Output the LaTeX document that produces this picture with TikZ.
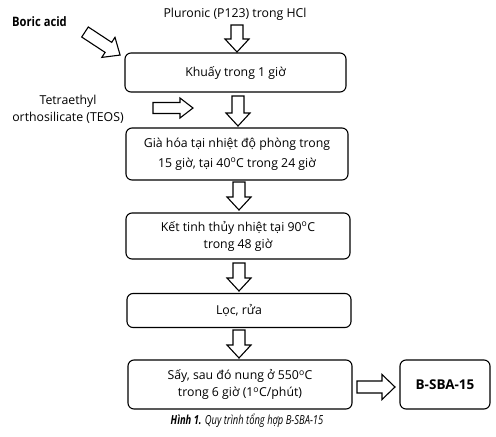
\documentclass[tikz,border=0pt]{standalone}
\usepackage{fontspec}
\setmainfont{Open Sans}
\newfontfamily\capfont[FakeStretch=0.75]{Open Sans}
\newfontfamily\narrowbold[FakeStretch=0.86]{Open Sans}
\usetikzlibrary{calc}
\tikzset{
  procbox/.style={draw, line width=1.1pt, rounded corners=6pt, align=center, inner sep=0pt, font=\fontsize{12.3}{17}\selectfont},
  lbl/.style={align=center, inner sep=0pt, font=\fontsize{12.3}{17}\selectfont},
  hollowarrow/.style={draw, line width=1.1pt, fill=white, line join=miter}
}
% vertical (downward) hollow block arrow from #1 to tip #2
\newcommand\downarrowbox[2]{%
  \draw[hollowarrow] let \p1=(#1), \p2=(#2) in
    (\x1-6pt,\y1) -- (\x1-6pt,\y2+13pt) -- (\x1-12pt,\y2+13pt) -- (\x1,\y2)
    -- (\x1+12pt,\y2+13pt) -- (\x1+6pt,\y2+13pt) -- (\x1+6pt,\y1) -- cycle;
}
% horizontal (rightward) hollow block arrow from #1 to tip #2; #3 shaft half width, #4 head half width
\newcommand\rightarrowbox[4]{%
  \draw[hollowarrow] let \p1=(#1), \p2=(#2) in
    (\x1,\y1+#3) -- (\x2-13pt,\y1+#3) -- (\x2-13pt,\y1+#4) -- (\x2,\y1)
    -- (\x2-13pt,\y1-#4) -- (\x2-13pt,\y1-#3) -- (\x1,\y1-#3) -- cycle;
}
\begin{document}
\begin{tikzpicture}[x=1pt, y=-1pt]
\useasboundingbox (0,0) rectangle (496,437);
% texts
\node[lbl] (plur) at (235,14) {Pluronic (P123) trong HCl};
\node[lbl, font=\narrowbold\fontsize{13}{14}\selectfont\bfseries] (boric) at (39.5,22) {Boric acid};
\node[lbl] (teos) at (68,109) {Tetraethyl\\orthosilicate (TEOS)};
% boxes
\node[procbox, minimum width=221pt, minimum height=39pt] (b1) at (235.5,72.5) {Khuấy trong 1 giờ};
\node[procbox, minimum width=222pt, minimum height=52pt, font=\fontsize{12.3}{20}\selectfont] (b2) at (237,154) {Già hóa tại nhiệt độ phòng trong\\15 giờ, tại 40\textsuperscript{o}C trong 24 giờ};
\node[procbox, minimum width=224pt, minimum height=46pt] (b3) at (238,236) {Kết tinh thủy nhiệt tại 90\textsuperscript{o}C\\trong 48 giờ};
\node[procbox, minimum width=224pt, minimum height=34pt] (b4) at (239,310.5) {Lọc, rửa};
\node[procbox, minimum width=224pt, minimum height=49pt] (b5) at (240,384.5) {Sấy, sau đó nung ở 550\textsuperscript{o}C\\trong 6 giờ (1\textsuperscript{o}C/phút)};
\node[procbox, minimum width=90pt, minimum height=49pt, font=\fontsize{13.5}{15}\selectfont\bfseries] (prod) at (445,384.5) {B-SBA-15};
\node[inner sep=0pt, font=\capfont\fontsize{12.5}{13}\selectfont\itshape] (cap) at (247,421) {\textbf{Hình 1.} Quy trình tổng hợp B-SBA-15};
% arrow end points
\coordinate (a1s) at (237,25);  \coordinate (a1e) at (237,52);
\coordinate (a2s) at (238,96);  \coordinate (a2e) at (238,126);
\coordinate (a3s) at (239,182); \coordinate (a3e) at (239,210);
\coordinate (a4s) at (239,263); \coordinate (a4e) at (239,291);
\coordinate (a5s) at (239,330); \coordinate (a5e) at (239,358);
\coordinate (a6s) at (357,387); \coordinate (a6e) at (395,387);
\coordinate (ats) at (153,108); \coordinate (ate) at (193,108);
\coordinate (abs) at (85,32);
\downarrowbox{a1s}{a1e}
\downarrowbox{a2s}{a2e}
\downarrowbox{a3s}{a3e}
\downarrowbox{a4s}{a4e}
\downarrowbox{a5s}{a5e}
\rightarrowbox{a6s}{a6e}{6pt}{12.5pt}
\rightarrowbox{ats}{ate}{5.5pt}{10pt}
% diagonal arrow towards the first box
\begin{scope}[shift={(abs)}, rotate=-33.3]
  \draw[hollowarrow] (0pt,6pt) -- (28pt,6pt) -- (28pt,12pt) -- (42pt,0pt)
    -- (28pt,-12pt) -- (28pt,-6pt) -- (0pt,-6pt) -- cycle;
\end{scope}
\end{tikzpicture}
\end{document}
